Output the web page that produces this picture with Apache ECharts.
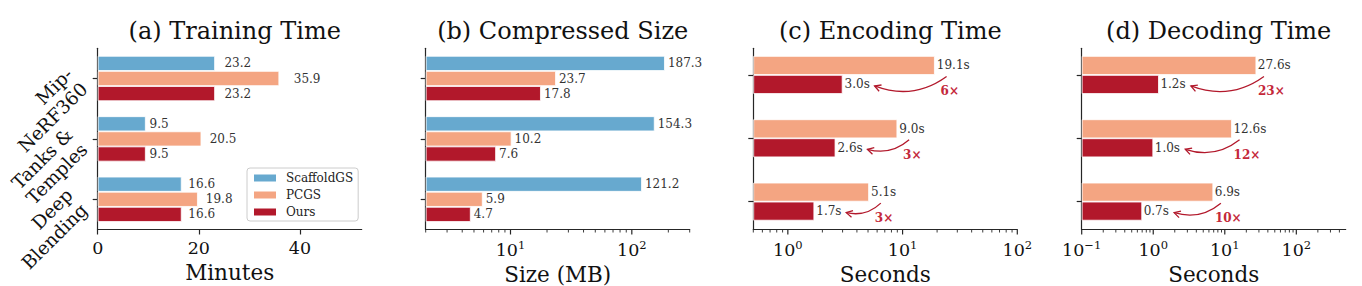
<!DOCTYPE html>
<html><head><meta charset="utf-8">
<script src="https://cdn.jsdelivr.net/npm/echarts@6/dist/echarts.min.js"></script>
<style>html,body{margin:0;padding:0;background:#fff}#c{width:1362px;height:286px}</style>
</head><body><div id="c"></div>
<script>
// ---------------- data ----------------
const categories = ['Mip-\nNeRF360', 'Tanks &\nTemples', 'Deep\nBlending'];
const methods = ['ScaffoldGS', 'PCGS', 'Ours'];
const titles = ['(a) Training Time', '(b) Compressed Size', '(c) Encoding Time', '(d) Decoding Time'];
const axisNames = ['Minutes', 'Size (MB)', 'Seconds', 'Seconds'];
const trainScaffold = [23.2, 9.5, 16.6];
const trainPCGS = [35.9, 20.5, 19.8];
const trainOurs = [23.2, 9.5, 16.6];
const sizeScaffold = [187.3, 154.3, 121.2];
const sizePCGS = [23.7, 10.2, 5.9];
const sizeOurs = [17.8, 7.6, 4.7];
const encPCGS = [19.1, 9.0, 5.1];
const encOurs = [3.0, 2.6, 1.7];
const decPCGS = [27.6, 12.6, 6.9];
const decOurs = [1.2, 1.0, 0.7];
const encSpeedup = ['6×', '3×', '3×'];
const decSpeedup = ['23×', '12×', '10×'];
const trainTicks = [0, 20, 40];
const axisRanges = [[0, 52.2], [2, 300], [0.5, 100], [0.1, 490]];

// ---------------- style / layout ----------------
const SERIF = '"DejaVu Serif", serif';
const COLORS = { ScaffoldGS: '#67a9cf', PCGS: '#f4a582', Ours: '#b2182b' };
const AX = '#262626';
const RED_TXT = '#c4283a';
const PL = [97.7, 425.7, 753.3, 1081.7];
const PW = 264;
const TOP = 48.3, AXY = 229.5;
const BAR_TOP = 43.3, BAR_H = 190;

const ctx = document.createElement('canvas').getContext('2d');
function textW(t, font) { ctx.font = font; return ctx.measureText(t).width; }

function isPow10(v) { const l = Math.log10(v); return Math.abs(l - Math.round(l)) < 1e-6; }
function logTickValues(min, max) {
  const out = [];
  for (let e = Math.floor(Math.log10(min)) - 1; e <= Math.ceil(Math.log10(max)); e++) {
    for (let m = 1; m <= 9; m++) {
      const v = m * Math.pow(10, e);
      if (v >= min * 0.999 && v <= max * 1.001) out.push(v);
    }
  }
  return out;
}
function logLabel(v) {
  if (!isPow10(v)) return '';
  const e = Math.round(Math.log10(v));
  return '{b|10}{s|' + (e < 0 ? '\u2212' + (-e) : e) + '}';
}

const grids = [
  { left: PL[0], top: TOP, width: PW, height: AXY - TOP },
  { left: PL[1], top: TOP, width: PW, height: AXY - TOP },
  { left: PL[2], top: BAR_TOP, width: PW, height: BAR_H },
  { left: PL[2], top: TOP, width: PW, height: AXY - TOP },
  { left: PL[3], top: BAR_TOP, width: PW, height: BAR_H },
  { left: PL[3], top: TOP, width: PW, height: AXY - TOP }
].map(g => Object.assign({ outerBoundsMode: 'none', containLabel: false }, g));

const axisLineStyle = { show: true, onZero: false, lineStyle: { color: AX, width: 1.2 } };
const tickLabelStyle = { fontFamily: SERIF, fontSize: 17.5, color: '#111' };
const nameStyle = { fontFamily: SERIF, fontSize: 21.5, color: '#111' };
const richLog = {
  b: { fontFamily: SERIF, fontSize: 17.5, color: '#111', lineHeight: 20, verticalAlign: 'bottom' },
  s: { fontFamily: SERIF, fontSize: 11.5, color: '#111', lineHeight: 12, verticalAlign: 'bottom', padding: [0, 0, 8, 0] }
};

function visibleLogX(gi, r, name) {
  return {
    type: 'log', logBase: 10, gridIndex: gi, min: r[0], max: r[1], startValue: r[0],
    axisLine: axisLineStyle, axisTick: { show: false }, splitLine: { show: false },
    axisLabel: { show: true, margin: 9, formatter: logLabel, rich: richLog, hideOverlap: false },
    name: name, nameLocation: 'middle', nameGap: 28, nameTextStyle: nameStyle
  };
}
function hiddenLogX(gi, r) {
  return { type: 'log', logBase: 10, gridIndex: gi, min: r[0], max: r[1], startValue: r[0], show: false, splitLine: { show: false } };
}
const xAxes = [
  {
    type: 'value', gridIndex: 0, min: axisRanges[0][0], max: axisRanges[0][1],
    axisLine: axisLineStyle,
    axisTick: { show: true, length: 5, customValues: trainTicks, lineStyle: { color: AX, width: 1.2 } },
    axisLabel: { show: true, margin: 9, customValues: trainTicks, ...tickLabelStyle },
    splitLine: { show: false },
    name: axisNames[0], nameLocation: 'middle', nameGap: 28, nameTextStyle: nameStyle
  },
  visibleLogX(1, axisRanges[1], axisNames[1]),
  hiddenLogX(2, axisRanges[2]),
  visibleLogX(3, axisRanges[2], axisNames[2]),
  hiddenLogX(4, axisRanges[3]),
  visibleLogX(5, axisRanges[3], axisNames[3])
];

const catTick = { show: true, alignWithLabel: true, length: 5, lineStyle: { color: AX, width: 1.2 } };
const yAxes = [
  {
    type: 'category', gridIndex: 0, data: categories, inverse: true,
    axisLine: axisLineStyle, axisTick: catTick, splitLine: { show: false },
    axisLabel: { show: true, rotate: 45, margin: 21, fontFamily: SERIF, fontSize: 18.5, lineHeight: 21, color: '#111', align: 'right', verticalAlign: 'middle' }
  },
  { type: 'category', gridIndex: 1, data: categories, inverse: true, axisLine: axisLineStyle, axisTick: catTick, axisLabel: { show: false }, splitLine: { show: false } },
  { type: 'category', gridIndex: 2, data: categories, inverse: true, axisLine: { show: false }, axisTick: catTick, axisLabel: { show: false }, splitLine: { show: false } },
  { type: 'value', gridIndex: 3, min: 0, max: 1, axisLine: axisLineStyle, axisTick: { show: false }, axisLabel: { show: false }, splitLine: { show: false } },
  { type: 'category', gridIndex: 4, data: categories, inverse: true, axisLine: { show: false }, axisTick: catTick, axisLabel: { show: false }, splitLine: { show: false } },
  { type: 'value', gridIndex: 5, min: 0, max: 1, axisLine: axisLineStyle, axisTick: { show: false }, axisLabel: { show: false }, splitLine: { show: false } }
];

function barSeries(name, data, ai, dist, suffix, barWidth) {
  return {
    type: 'bar', name: name, xAxisIndex: ai, yAxisIndex: ai, barWidth: barWidth, barGap: '0%',
    data: data.map(v => ({ value: v, label: { distance: dist(v) } })),
    itemStyle: { color: COLORS[name], borderColor: '#fff', borderWidth: 0.8 },
    label: { show: true, position: 'right', formatter: p => p.value.toFixed(1) + suffix, fontFamily: SERIF, fontSize: 12, color: '#333' },
    emphasis: { disabled: true }, silent: true
  };
}
function tickSeries(ai, r) {
  return {
    type: 'custom', xAxisIndex: ai, yAxisIndex: ai, silent: true, clip: false, z: 3,
    data: logTickValues(r[0], r[1]).map(v => [v]),
    encode: { x: 0 },
    renderItem: (params, api) => {
      const v = api.value(0);
      const x = api.coord([v, 0])[0];
      const y = params.coordSys.y + params.coordSys.height;
      const len = isPow10(v) ? 5 : 3;
      return { type: 'line', shape: { x1: x, y1: y, x2: x, y2: y + len }, style: { stroke: AX, lineWidth: isPow10(v) ? 1.2 : 0.9 } };
    }
  };
}
function arrowSeries(ai, pcgs, ours, texts) {
  const font = 'bold 12px "DejaVu Serif"';
  return {
    type: 'custom', xAxisIndex: ai, yAxisIndex: ai, silent: true, clip: false, z: 5,
    data: pcgs.map((v, i) => [v, ours[i], i]),
    encode: { x: 0, y: 2 },
    renderItem: (params, api) => {
      const i = params.dataIndex;
      const pc = api.coord([api.value(0), api.value(2)]);
      const oc = api.coord([api.value(1), api.value(2)]);
      const cy = pc[1];
      const txt = texts[i];
      const lw = textW(txt, font);
      const lx = pc[0] + 15, ly = cy + 16.5;
      const tx = lx - lw / 2 + 6, ty = cy + 1.5;
      const hx = oc[0] + 32, hy = cy + 11;
      const dx = hx - tx, dy = hy - ty;
      const cpx = (tx + hx) / 2 + 0.27 * dy, cpy = (ty + hy) / 2 - 0.27 * dx;
      let ux = hx - cpx, uy = hy - cpy; const n = Math.hypot(ux, uy); ux /= n; uy /= n;
      const L = 7, a = 0.5;
      const w1 = [hx - L * (ux * Math.cos(a) - uy * Math.sin(a)), hy - L * (ux * Math.sin(a) + uy * Math.cos(a))];
      const w2 = [hx - L * (ux * Math.cos(-a) - uy * Math.sin(-a)), hy - L * (ux * Math.sin(-a) + uy * Math.cos(-a))];
      const stroke = { stroke: COLORS.Ours, lineWidth: 1.3, fill: null };
      return {
        type: 'group', children: [
          { type: 'bezierCurve', shape: { x1: tx, y1: ty, x2: hx, y2: hy, cpx1: cpx, cpy1: cpy }, style: stroke },
          { type: 'polyline', shape: { points: [w1, [hx, hy], w2] }, style: stroke },
          { type: 'text', x: lx, y: ly, style: { text: txt, fill: RED_TXT, font: font, align: 'center', verticalAlign: 'middle' } }
        ]
      };
    }
  };
}

const pxA = PW / (axisRanges[0][1] - axisRanges[0][0]);
const series = [
  barSeries('ScaffoldGS', trainScaffold, 0, v => 0.08 * v * pxA, '', '25%'),
  barSeries('PCGS', trainPCGS, 0, v => 0.08 * v * pxA, '', '25%'),
  barSeries('Ours', trainOurs, 0, v => 0.08 * v * pxA, '', '25%'),
  barSeries('ScaffoldGS', sizeScaffold, 1, () => 3, '', '25%'),
  barSeries('PCGS', sizePCGS, 1, () => 3, '', '25%'),
  barSeries('Ours', sizeOurs, 1, () => 3, '', '25%'),
  barSeries('PCGS', encPCGS, 2, () => 2, 's', '30%'),
  barSeries('Ours', encOurs, 2, () => 2, 's', '30%'),
  barSeries('PCGS', decPCGS, 4, () => 1.5, 's', '30%'),
  barSeries('Ours', decOurs, 4, () => 1.5, 's', '30%'),
  tickSeries(1, axisRanges[1]),
  tickSeries(3, axisRanges[2]),
  tickSeries(5, axisRanges[3]),
  arrowSeries(2, encPCGS, encOurs, encSpeedup),
  arrowSeries(4, decPCGS, decOurs, decSpeedup)
];

const option = {
  backgroundColor: '#fff',
  animation: false,
  textStyle: { fontFamily: SERIF },
  title: titles.map((t, i) => ({
    text: t, left: PL[i] + PW / 2, textAlign: 'center', top: 14,
    textStyle: { fontFamily: SERIF, fontSize: 24, fontWeight: 'normal', color: '#111' }
  })),
  legend: {
    data: methods, orient: 'vertical', left: 247, top: 168,
    itemWidth: 24, itemHeight: 9, itemGap: 5, icon: 'rect',
    padding: [4, 5, 3, 5], borderColor: '#cccccc', borderWidth: 1, borderRadius: 3,
    backgroundColor: 'rgba(255,255,255,0.85)',
    textStyle: { fontFamily: SERIF, fontSize: 12, color: '#222', lineHeight: 12, padding: [0, 0, 0, 4] }
  },
  grid: grids,
  xAxis: xAxes,
  yAxis: yAxes,
  series: series
};

const chart = echarts.init(document.getElementById('c'), null, { renderer: 'svg' });
chart.setOption(option);
</script>
</body></html>
